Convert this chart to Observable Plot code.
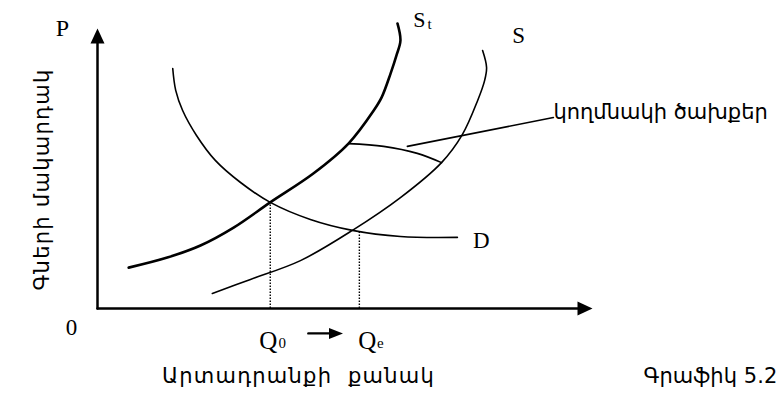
<!DOCTYPE html>
<html><head><meta charset="utf-8">
<script src="https://cdn.jsdelivr.net/npm/d3@7"></script>
<script src="https://cdn.jsdelivr.net/npm/@observablehq/plot@0.6"></script>
<style>body{margin:0;background:#fff}</style>
</head><body><div id="chart"></div>
<script>
// Short-run supply S_t
const stQ = [6.3, 14.1, 20.8, 27.5, 34.9, 43.6, 50.7, 55.8, 57.4, 59.2, 60.4, 61.2, 60.6];
const stP = [14.6, 18.2, 22.5, 28.9, 37.9, 48.2, 58.9, 70.7, 75.4, 83.9, 90.4, 95.7, 101.8];
// Supply S
const sQ = [23.2, 30.9, 41.0, 51.5, 61.2, 69.5, 73.7, 76.8, 78.2, 78.6, 77.8];
const sP = [5.4, 10.4, 17.1, 27.9, 39.6, 52.1, 62.1, 74.3, 81.4, 86.1, 92.1];
// Demand D
const dQ = [15.2, 15.8, 17.2, 20.0, 23.8, 28.9, 34.9, 43.0, 51.5, 61.2, 72.7];
const dP = [85.7, 77.9, 70.7, 61.8, 52.9, 45.0, 37.9, 31.8, 27.9, 25.7, 25.4];
// Side costs curve (between S_t and S)
const sideQ = [50.7, 57.8, 64.6, 69.5];
const sideP = [58.9, 57.9, 55.4, 52.1];
// Leader line to the side-cost label
const leaderQ = [62.6, 92.1];
const leaderP = [57.9, 68.2];
// Equilibria
const eqQ = [34.9, 52.9];
const eqP = [37.9, 27.5];
const shiftQ = [42.6, 47.0, 49.6];
const shiftP = -8.9;

const labels = {
  p: "P", zero: "0", q: "Q", q0: "0", qe: "e", s: "S", t: "t", d: "D",
  side: "կողմնակի ծախքեր",
  xTitle: "Արտադրանքի  քանակ",
  yTitle: "Գների մակարդակ",
  caption: "Գրաֆիկ 5.2"
};

const pts = (qs, ps) => qs.map((q, i) => ({q, p: ps[i]}));
const arrowHead = (w, h) => ({draw(ctx) { ctx.moveTo(0, 0); ctx.lineTo(-w, h); ctx.lineTo(w, h); ctx.closePath(); }});
const serif = "Liberation Serif, Times New Roman, serif";
const sans = "DejaVu Sans, sans-serif";
const stLast = {q: stQ[stQ.length-1], p: stP[stP.length-1]};
const sLast = {q: sQ[sQ.length-1], p: sP[sP.length-1]};
const dLast = {q: dQ[dQ.length-1], p: dP[dP.length-1]};
const leadEnd = {q: leaderQ[1], p: leaderP[1]};
const armSize = 21;

const chart = Plot.plot({
  width: 783, height: 404, margin: 0,
  x: {domain: [0, 100], range: [97, 592], axis: null},
  y: {domain: [0, 100], range: [308, 28], axis: null},
  style: {background: "#fff", overflow: "visible"},
  marks: [
    // axes
    Plot.line([{q:0,p:0},{q:97,p:0}], {x:"q", y:"p", stroke:"black", strokeWidth:2.5}),
    Plot.line([{q:0,p:0},{q:0,p:97}], {x:"q", y:"p", stroke:"black", strokeWidth:2.5}),
    Plot.dot([{q:100,p:0}], {x:"q", y:"p", symbol: arrowHead(7, 15), fill:"black", stroke:null, rotate:90}),
    Plot.dot([{q:0,p:100}], {x:"q", y:"p", symbol: arrowHead(7, 15), fill:"black", stroke:null}),
    // dotted drop lines
    Plot.ruleX(pts(eqQ, eqP), {x:"q", y1:0, y2:"p", stroke:"black", strokeWidth:1.4, strokeDasharray:"1.5,1.5"}),
    // curves
    Plot.line(pts(dQ, dP), {x:"q", y:"p", curve:"catmull-rom", stroke:"black", strokeWidth:1.6}),
    Plot.line(pts(sQ, sP), {x:"q", y:"p", curve:"catmull-rom", stroke:"black", strokeWidth:1.6}),
    Plot.line(pts(stQ, stP), {x:"q", y:"p", curve:"catmull-rom", stroke:"black", strokeWidth:2.6}),
    Plot.line(pts(sideQ, sideP), {x:"q", y:"p", curve:"catmull-rom", stroke:"black", strokeWidth:1.6}),
    Plot.line(pts(leaderQ, leaderP), {x:"q", y:"p", stroke:"black", strokeWidth:1.6}),
    // shift arrow Q0 -> Qe
    Plot.line([{q:shiftQ[0],p:shiftP},{q:shiftQ[1],p:shiftP}], {x:"q", y:"p", stroke:"black", strokeWidth:2.4}),
    Plot.dot([{q:shiftQ[2],p:shiftP}], {x:"q", y:"p", symbol: arrowHead(5.5, 14), fill:"black", stroke:null, rotate:90}),
    // serif labels
    Plot.text([{q:0,p:100}], {x:"q", y:"p", text:()=>labels.p, dx:-35, dy:0, fontSize:24, fontFamily:serif, fill:"black"}),
    Plot.text([{q:0,p:0}], {x:"q", y:"p", text:()=>labels.zero, dx:-26, dy:19, fontSize:23, fontFamily:serif, fill:"black"}),
    Plot.text([{q:eqQ[0],p:0}], {x:"q", y:"p", text:()=>labels.q, dx:-2, dy:32, fontSize:25, fontFamily:serif, fill:"black"}),
    Plot.text([{q:eqQ[0],p:0}], {x:"q", y:"p", text:()=>labels.q0, dx:12, dy:35, fontSize:15, fontFamily:serif, fill:"black"}),
    Plot.text([{q:eqQ[1],p:0}], {x:"q", y:"p", text:()=>labels.q, dx:8, dy:32, fontSize:25, fontFamily:serif, fill:"black"}),
    Plot.text([{q:eqQ[1],p:0}], {x:"q", y:"p", text:()=>labels.qe, dx:21, dy:35, fontSize:15, fontFamily:serif, fill:"black"}),
    Plot.text([stLast], {x:"q", y:"p", text:()=>labels.s, dx:22, dy:-4, fontSize:22, fontFamily:serif, fill:"black"}),
    Plot.text([stLast], {x:"q", y:"p", text:()=>labels.t, dx:32, dy:1, fontSize:15, fontFamily:serif, fill:"black"}),
    Plot.text([sLast], {x:"q", y:"p", text:()=>labels.s, dx:36, dy:-15, fontSize:23, fontFamily:serif, fill:"black"}),
    Plot.text([dLast], {x:"q", y:"p", text:()=>labels.d, dx:24, dy:3, fontSize:23, fontFamily:serif, fill:"black"}),
    // Armenian labels
    Plot.text([leadEnd], {x:"q", y:"p", text:()=>labels.side, textAnchor:"start", dx:0, dy:-5, fontSize:armSize, fontFamily:sans, fill:"black"}),
    Plot.text([0], {frameAnchor:"bottom-left", text:()=>labels.xTitle, textAnchor:"middle", dx:298, dy:-22, fontSize:armSize, fontFamily:sans, fill:"black"}),
    Plot.text([0], {frameAnchor:"bottom-left", text:()=>labels.caption, textAnchor:"start", dx:643, dy:-22, fontSize:armSize, fontFamily:sans, fill:"black"}),
    Plot.text([0], {frameAnchor:"top-left", text:()=>labels.yTitle, rotate:-90, textAnchor:"middle", dx:34, dy:179, fontSize:armSize, fontFamily:sans, fill:"black"})
  ]
});
document.getElementById("chart").appendChild(chart);

// widen the Armenian labels to the spread seen in the reference
const spread = new Map([[labels.xTitle, 273], [labels.side, 210], [labels.yTitle, 222], [labels.caption, 134]]);
chart.querySelectorAll("text").forEach(t => {
  const target = spread.get(t.textContent);
  if (!target) return;
  const w = t.getComputedTextLength();
  const n = [...t.textContent].length;
  t.style.letterSpacing = Math.max(0, (target - w) / n) + "px";
});
</script>
</body></html>
